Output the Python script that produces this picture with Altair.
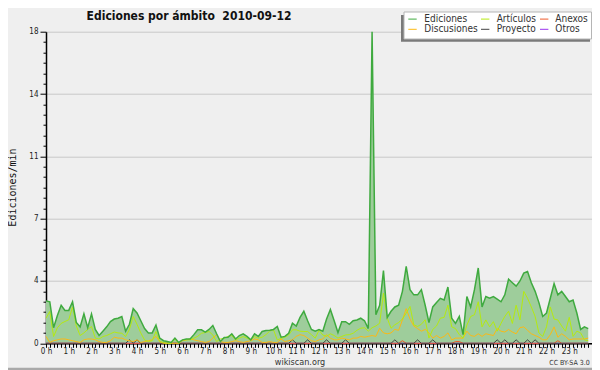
import altair as alt
import pandas as pd

# ---- data (one value every 10 minutes, 00:00 .. 23:50) ----
ediciones = [
    2.45, 2.4, 0.9, 1.6, 2.2, 1.9, 1.9, 2.4, 1.2, 0.95,
    1.7, 0.9, 1.7, 0.8, 0.45, 0.7, 0.95, 1.25, 1.4, 1.45,
    1.55, 0.7, 1.1, 2.0, 1.75, 1.3, 0.85, 0.6, 0.6, 1.05,
    0.3, 0.15, 0.1, 0.05, 0.3, 0.05, 0.2, 0.25, 0.25, 0.5,
    0.78, 0.78, 0.65, 0.8, 1.03, 0.55, 0.1, 0.33, 0.35, 0.55,
    0.25, 0.45, 0.55, 0.4, 0.2, 0.55, 0.4, 0.68, 0.74, 0.76,
    0.8, 0.97, 0.35, 0.4, 0.58, 1.16, 1.0, 1.5, 1.85, 1.3,
    0.8, 0.7, 0.8, 0.7, 1.4, 1.95, 1.3, 0.62, 1.25, 1.25,
    1.1, 1.3, 1.35, 1.45, 1.3, 0.85, 18.0, 1.65, 2.2, 4.2,
    1.5, 1.85, 2.1, 2.2, 3.0, 4.45, 3.1, 2.8, 2.8, 3.1,
    2.2, 1.2, 2.1, 2.35, 2.6, 2.5, 3.25, 1.45, 1.15, 1.55,
    0.5, 2.7, 2.1, 3.1, 4.35, 2.1, 2.7, 2.6, 2.7, 2.55,
    2.4, 2.8, 3.7, 3.5, 3.3, 3.6, 4.05, 4.15, 3.5, 3.0,
    2.35, 1.55, 1.75, 2.6, 3.45, 2.8, 3.0, 2.7, 2.4, 2.5,
    1.75, 0.8, 0.95, 0.85,
]
articulos = [
    1.45, 1.84, 0.39, 0.9, 1.15, 1.26, 1.36, 2.1, 1.0, 0.45,
    0.6, 0.8, 0.97, 0.3, 0.25, 0.39, 0.45, 0.55, 0.65, 0.6,
    0.58, 0.39, 0.8, 1.55, 1.1, 0.6, 0.19, 0.1, 0.15, 0.68,
    0.1, 0.05, 0.0, 0.0, 0.25, 0.0, 0.2, 0.2, 0.2, 0.3,
    0.4, 0.58, 0.62, 0.68, 0.48, 0.1, 0.25, 0.29, 0.4, 0.45,
    0.19, 0.3, 0.39, 0.3, 0.19, 0.39, 0.3, 0.35, 0.5, 0.7,
    0.78, 0.19, 0.29, 0.35, 0.48, 0.78, 0.78, 0.7, 0.68, 0.68,
    0.5, 0.3, 0.75, 0.48, 0.4, 0.55, 0.45, 0.3, 0.4, 0.48,
    0.5, 0.58, 0.75, 0.87, 0.9, 0.7, 0.9, 1.0, 1.16, 2.9,
    1.45, 0.87, 1.07, 1.2, 1.4, 1.74, 2.13, 1.07, 0.97, 1.1,
    1.36, 0.3, 0.8, 1.0, 1.45, 1.5, 2.2, 0.95, 0.85, 0.5,
    0.3, 1.05, 1.55, 1.65, 2.4, 0.95, 1.35, 0.95, 1.25, 0.7,
    1.15, 1.55, 1.85, 1.15, 2.2, 1.35, 3.0, 2.6, 2.1, 1.55,
    0.6, 0.4, 0.95, 2.1, 1.4, 1.35, 1.0, 0.7, 1.5, 0.4,
    0.7, 0.6, 0.2, 0.15,
]
discusiones = [
    0.4, 0.05, 0.15, 0.2, 0.25, 0.25, 0.2, 0.15, 0.1, 0.05,
    0.2, 0.25, 0.25, 0.2, 0.1, 0.05, 0.05, 0.15, 0.35, 0.3,
    0.3, 0.2, 0.15, 0.1, 0.2, 0.05, 0.1, 0.15, 0.2, 0.4,
    0.1, 0.0, 0.0, 0.0, 0.0, 0.0, 0.15, 0.2, 0.25, 0.2,
    0.15, 0.1, 0.05, 0.1, 0.3, 0.5, 0.1, 0.05, 0.05, 0.1,
    0.15, 0.1, 0.05, 0.1, 0.15, 0.25, 0.2, 0.05, 0.05, 0.1,
    0.05, 0.05, 0.25, 0.1, 0.15, 0.2, 0.4, 0.5, 0.45, 0.3,
    0.15, 0.1, 0.2, 0.25, 0.5, 0.3, 0.2, 0.2, 0.3, 0.25,
    0.2, 0.3, 0.3, 0.4, 0.35, 0.4, 0.45, 0.4, 0.87, 0.6,
    0.55, 0.6, 0.8, 0.75, 1.35, 2.0, 1.4, 1.0, 0.85, 0.7,
    0.8, 0.6, 0.3, 0.45, 0.3, 0.4, 0.6, 0.2, 0.3, 0.3,
    0.3, 0.7, 0.45, 0.4, 0.55, 0.4, 0.55, 0.5, 0.45, 0.85,
    0.7, 0.65, 0.8, 0.65, 0.55, 0.9, 0.95, 0.75, 0.55, 0.45,
    0.35, 0.2, 0.2, 0.5, 0.95, 0.35, 0.55, 0.4, 0.2, 0.25,
    0.25, 0.25, 0.25, 0.3,
]
proyecto = [
    0, 0, 0, 0, 0, 0, 0, 0, 0, 0,
    0, 0, 0, 0, 0, 0, 0, 0, 0, 0,
    0, 0, 0.2, 0, 0.2, 0, 0, 0, 0, 0,
    0, 0, 0, 0, 0, 0, 0, 0, 0, 0,
    0, 0, 0, 0, 0, 0, 0, 0, 0, 0,
    0, 0, 0, 0, 0, 0, 0, 0, 0, 0,
    0, 0, 0, 0, 0, 0.2, 0, 0, 0, 0.2,
    0, 0, 0, 0, 0.2, 0, 0, 0, 0, 0.2,
    0, 0, 0, 0, 0, 0, 0, 0, 0, 0,
    0, 0, 0.2, 0, 0, 0, 0, 0, 0.2, 0,
    0, 0, 0.2, 0, 0, 0, 0, 0, 0, 0,
    0, 0, 0, 0, 0, 0, 0, 0, 0, 0.2,
    0, 0.2, 0, 0, 0.2, 0, 0, 0.2, 0, 0.2,
    0, 0, 0, 0, 0, 0, 0, 0, 0, 0,
    0, 0, 0, 0,
]
anexos = [
    0, 0, 0, 0, 0, 0, 0, 0, 0, 0,
    0, 0, 0, 0, 0, 0, 0, 0, 0, 0,
    0, 0, 0, 0, 0, 0, 0, 0, 0, 0,
    0, 0, 0, 0, 0, 0, 0, 0, 0, 0,
    0, 0, 0, 0, 0, 0, 0, 0, 0, 0,
    0, 0, 0, 0, 0, 0, 0, 0, 0, 0,
    0, 0, 0, 0, 0, 0, 0, 0, 0, 0,
    0, 0, 0, 0, 0, 0, 0, 0, 0, 0,
    0, 0, 0, 0, 0, 0, 0, 0, 0, 0,
    0, 0, 0, 0, 0.15, 0, 0, 0, 0, 0,
    0, 0, 0, 0, 0, 0, 0, 0, 0.1, 0.1,
    0, 0, 0, 0, 0, 0, 0, 0, 0, 0,
    0, 0, 0, 0, 0, 0, 0, 0, 0, 0,
    0, 0, 0, 0, 0, 0.15, 0, 0, 0, 0,
    0, 0, 0, 0,
]
otros = [0] * len(ediciones)

series_names = ["Ediciones", "Artículos", "Anexos", "Discusiones", "Proyecto", "Otros"]
series_colors = ["#3faa3f", "#b5ea10", "#ee5a2a", "#fdb913", "#444444", "#9933ee"]
series_values = [ediciones, articulos, anexos, discusiones, proyecto, otros]

title_text = "Ediciones por ámbito\u00a0\u00a02010-09-12"
y_title = "Ediciones/min"
footer = "wikiscan.org"
license_text = "CC BY-SA 3.0"

FONT = "DejaVu Sans Condensed, DejaVu Sans"

minutes = [10 * i for i in range(len(ediciones))]
frames = {
    name: pd.DataFrame({"t": minutes, "v": vals})
    for name, vals in zip(series_names, series_values)
}
color_of = dict(zip(series_names, series_colors))

major_test = "abs(datum.value / 3.6 - round(datum.value / 3.6)) < 0.01"

x_axis = alt.Axis(
    values=list(range(0, 1440, 10)),
    labelExpr="datum.value % 60 == 0 ? (datum.value / 60) + ' h' : ''",
    tickSize=4, tickColor="#000000", tickWidth=1,
    domainColor="#000000", domainWidth=1.5,
    labelFont=FONT, labelFontSize=8, labelColor="#222222",
    labelPadding=0, labelOverlap=False, labelFlush=False, labelBound=False,
    labelAngle=0, grid=False, title=None,
)
y_axis = alt.Axis(
    values=[round(0.6 * k, 1) for k in range(31)],
    labelExpr="abs(datum.value / 3.6 - round(datum.value / 3.6)) < 0.01 ? format(round(datum.value), 'd') : ''",
    tickSize={"condition": {"test": major_test, "value": 6}, "value": 3},
    tickColor="#000000", tickWidth=1,
    domainColor="#000000", domainWidth=1.5,
    labelFont=FONT, labelFontSize=8, labelColor="#222222",
    labelPadding=2, labelOverlap=False, labelFlush=False, labelBound=False,
    grid=True, gridColor="#c9c9c9", gridWidth=1,
    gridOpacity={"condition": {"test": major_test, "value": 1}, "value": 0},
    title=None,
)
xs = alt.Scale(domain=[0, 1440], nice=False, zero=False)
ys = alt.Scale(domain=[0, 18], nice=False)

X = alt.X("t:Q", scale=xs, axis=x_axis)
Y = alt.Y("v:Q", scale=ys, axis=y_axis)

layers = []
layers.append(
    alt.Chart(frames["Ediciones"]).mark_area(color="#9ecd9b", opacity=1, interpolate="linear")
    .encode(x=X, y=Y)
)
for name, width in [("Otros", 1), ("Anexos", 1), ("Proyecto", 1),
                    ("Discusiones", 1), ("Artículos", 1), ("Ediciones", 1.5)]:
    layers.append(
        alt.Chart(frames[name]).mark_line(color=color_of[name], strokeWidth=width, interpolate="linear")
        .encode(x=X, y=Y)
    )

one = pd.DataFrame({"k": [0]})

def box(x1, x2, y1, y2, **kw):
    return alt.Chart(one).mark_rect(**kw).encode(
        x=alt.value(x1), x2=alt.value(x2), y=alt.value(y1), y2=alt.value(y2))

def text(s, x, y, **kw):
    return alt.Chart(one).mark_text(text=s, **kw).encode(x=alt.value(x), y=alt.value(y))

# legend box with shadow
layers.append(box(355, 544, -16.7, 10, color="#7a7a7a"))
layers.append(box(358, 545.5, -19.7, 7.3, fill="#ffffff", stroke="#b5b5b5", strokeWidth=1))
col_sym = [362.3, 435.0, 494.0]
col_txt = [378.3, 450.7, 509.3]
row_y = [-12.6, -2.4]
for k, name in enumerate(series_names):
    c, r = k % 3, k // 3
    layers.append(
        alt.Chart(one).mark_rule(color=color_of[name], strokeWidth=1).encode(
            x=alt.value(col_sym[c]), x2=alt.value(col_sym[c] + 8.4), y=alt.value(row_y[r]))
    )
    layers.append(text(name, col_txt[c], row_y[r], font=FONT, fontSize=10, align="left",
                       baseline="middle", color="#333333"))

# title, axis title, footer
layers.append(text(title_text, 143, -12.2, font=FONT, fontSize=12, fontWeight="bold",
                   align="center", baseline="alphabetic", color="#111111"))
layers.append(text(y_title, -30, 155.8, font="DejaVu Sans Mono", fontSize=10, angle=270,
                   align="center", baseline="alphabetic", color="#111111"))
layers.append(text(footer, 254, 333.2, font=FONT, fontSize=9, align="center",
                   baseline="alphabetic", color="#333333"))
layers.append(text(license_text, 523.5, 333.4, font=FONT, fontSize=7, align="center",
                   baseline="alphabetic", color="#333333"))
# bottom edge of the outer frame
layers.append(box(-38, 546, 336, 338.3, color="#a9a9a9"))

chart = alt.layer(*layers).properties(
    width=546, height=311.6,
    padding={"left": 38, "top": 23.7, "right": 0, "bottom": 26.7},
    autosize=alt.AutoSizeParams(type="none"),
    background="#efefef",
).configure_view(stroke=None, fill="#efefef")

chart.save("out.html", embed_options={"renderer": "svg", "actions": False})
